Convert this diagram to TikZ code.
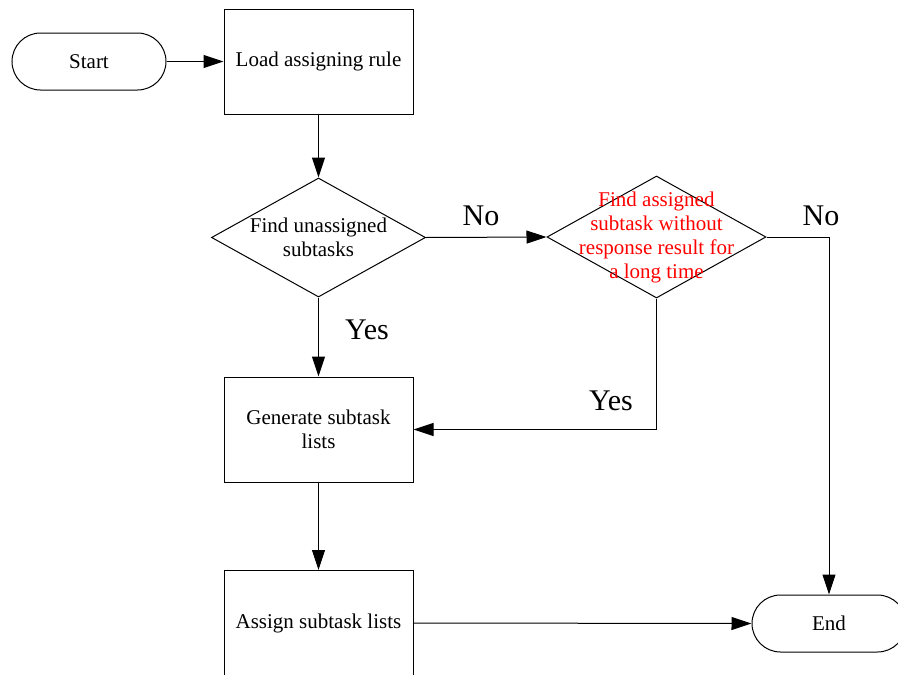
\documentclass[tikz,border=0pt]{standalone}
\usepackage{fontspec}
\setmainfont{Liberation Serif}
\usetikzlibrary{arrows.meta,shapes.geometric}
\begin{document}
\begin{tikzpicture}[x=1pt,y=-1pt,
  line width=1pt,
  body/.style={font=\fontsize{21}{24}\selectfont, align=center, inner sep=0pt},
  branch/.style={font=\fontsize{30}{34}\selectfont, inner sep=0pt},
  procbox/.style={draw, rectangle, minimum width=189pt, minimum height=105pt, inner sep=0pt},
  terminal/.style={draw, rectangle, rounded corners=28.5pt, minimum width=154pt, minimum height=57pt, inner sep=0pt},
  decision/.style={draw, diamond, inner sep=0pt},
  flow/.style={-{Triangle[length=20pt,width=13pt]}}]
\useasboundingbox (0,0) rectangle (898,675);
\clip (0,0) rectangle (898,675);
% terminals
\node[terminal, body] (start) at (89,61.5) {Start};
\node[terminal, body] (end) at (829,623.5) {End};
% process boxes
\node[procbox, body] (load) at (318.5,61.5) {Load assigning rule};
\node[procbox, body] (gen) at (318.5,429.5) {Generate subtask\\lists};
\node[procbox, body] (assign) at (318.5,623) {Assign subtask lists};
% decisions
\node[decision, minimum width=214pt, minimum height=119pt] (d1) at (318.5,237.5) {};
\node[body] (d1t) at (318.5,237) {Find unassigned\\subtasks};
\node[decision, minimum width=219pt, minimum height=122pt] (d2) at (656.5,237) {};
\node[body, text=red] (d2t) at (656.5,237) {Find assigned\\subtask without\\response result for\\a long time};
% branch labels
\node[branch] (no1) at (481,216) {No};
\node[branch] (no2) at (821,216) {No};
\node[branch] (yes1) at (367,330) {Yes};
\node[branch] (yes2) at (611,401) {Yes};
% connectors
\draw[flow] (start) -- (load);
\draw[flow] (load.south) -- (d1.north);
\draw[flow] (d1.east) -- (d2.west);
\draw[flow] (d1.south) -- (gen.north);
\draw[flow] (d2.east) -| (end.north);
\draw[flow] (d2.south) |- (gen.east);
\draw[flow] (gen.south) -- (assign.north);
\draw[flow] (assign.east) -- (end.west);
\end{tikzpicture}
\end{document}
